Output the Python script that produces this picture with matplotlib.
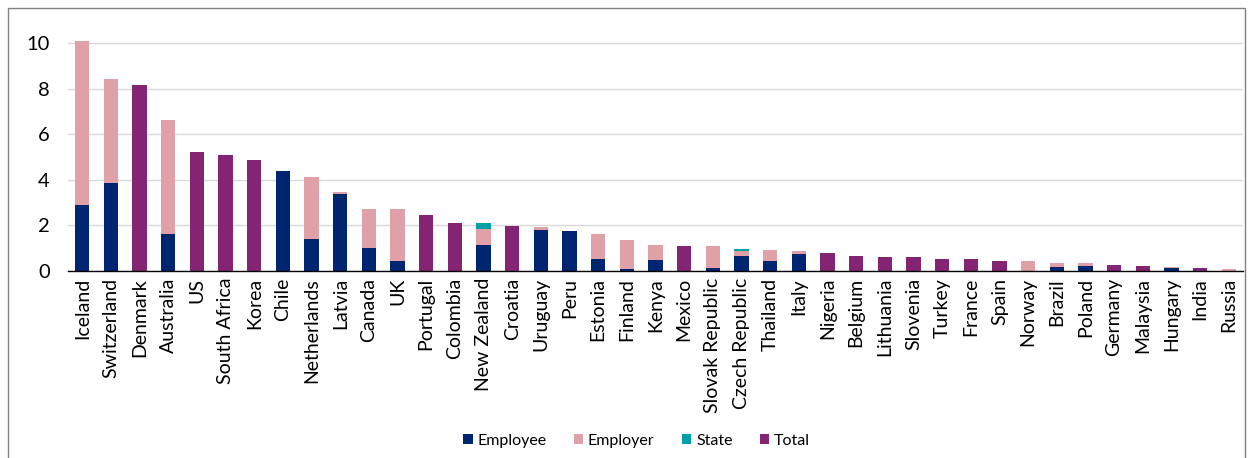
import numpy as np
import matplotlib
matplotlib.use("Agg")
import matplotlib.pyplot as plt
from matplotlib.patches import Rectangle

plt.rcParams['font.family'] = ['Lato', 'DejaVu Sans']

countries = ["Iceland", "Switzerland", "Denmark", "Australia", "US", "South Africa", "Korea",
             "Chile", "Netherlands", "Latvia", "Canada", "UK", "Portugal", "Colombia",
             "New Zealand", "Croatia", "Uruguay", "Peru", "Estonia", "Finland", "Kenya",
             "Mexico", "Slovak Republic", "Czech Republic", "Thailand", "Italy", "Nigeria",
             "Belgium", "Lithuania", "Slovenia", "Turkey", "France", "Spain", "Norway",
             "Brazil", "Poland", "Germany", "Malaysia", "Hungary", "India", "Russia"]

employee = [2.90, 3.85, 0, 1.62, 0, 0, 0, 4.38, 1.39, 3.40, 1.02, 0.45, 0, 0,
            1.16, 0, 1.82, 1.76, 0.51, 0.10, 0.50, 0, 0.13, 0.66, 0.43, 0.75, 0,
            0, 0, 0, 0, 0, 0, 0, 0.18, 0.23, 0, 0, 0.12, 0, 0]
employer = [7.20, 4.57, 0, 5.01, 0, 0, 0, 0, 2.74, 0.06, 1.69, 2.26, 0, 0,
            0.69, 0, 0.11, 0, 1.13, 1.28, 0.63, 0, 0.97, 0.22, 0.51, 0.13, 0,
            0, 0, 0, 0, 0, 0, 0.43, 0.19, 0.12, 0, 0, 0.07, 0, 0.09]
state = [0, 0, 0, 0, 0, 0, 0, 0, 0, 0, 0, 0, 0, 0,
         0.26, 0, 0, 0, 0, 0, 0, 0, 0, 0.10, 0, 0, 0,
         0, 0, 0, 0, 0, 0, 0, 0, 0, 0, 0, 0, 0, 0]
total = [0, 0, 8.17, 0, 5.23, 5.10, 4.88, 0, 0, 0, 0, 0, 2.48, 2.11,
         0, 1.96, 0, 0, 0, 0, 0, 1.11, 0, 0, 0, 0, 0.79,
         0.64, 0.62, 0.60, 0.53, 0.53, 0.44, 0, 0, 0, 0.25, 0.21, 0, 0.12, 0]

c_emp = "#002570"
c_empr = "#E0A0A8"
c_state = "#00A0A8"
c_total = "#832475"

x = np.arange(len(countries))
e1 = np.array(employee)
e2 = np.array(employer)
e3 = np.array(state)

fig = plt.figure(figsize=(12.53, 4.58), dpi=100)
ax = fig.add_axes([68/1253, 1-271/458, 1175/1253, 239/458])

w = 0.5
ax.bar(x, e1, w, color=c_emp, label="Employee", zorder=3)
ax.bar(x, e2, w, bottom=e1, color=c_empr, label="Employer", zorder=3)
ax.bar(x, e3, w, bottom=e1 + e2, color=c_state, label="State", zorder=3)
ax.bar(x, total, w, color=c_total, label="Total", zorder=3)

ax.set_xlim(-0.5, len(countries) - 0.5)
ax.set_ylim(0, 10.5)
ax.set_yticks([0, 2, 4, 6, 8, 10])
ax.yaxis.grid(True, color="#d9d9d9", linewidth=1, zorder=0)
ax.set_axisbelow(True)
for s in ["top", "right", "left"]:
    ax.spines[s].set_visible(False)
ax.spines["bottom"].set_color("black")
ax.spines["bottom"].set_linewidth(1)
ax.spines["bottom"].set_zorder(4)
ax.tick_params(axis="y", length=0, labelsize=14.5, pad=13)
ax.tick_params(axis="x", length=0, labelsize=14, pad=5)
ax.set_xticks(x)
ax.set_xticklabels(countries, rotation=90)

fig.legend(loc="center", bbox_to_anchor=(0.508, 1 - 441/458), ncol=4,
           frameon=False, fontsize=11.5, handlelength=0.6, handleheight=0.6,
           handletextpad=0.3, columnspacing=1.7)

fig.patches.append(Rectangle((8/1253, -0.01), 1237/1253, 1 - 8/458 + 0.01,
                             transform=fig.transFigure, fill=False,
                             edgecolor="#808080", linewidth=1))

fig.savefig("out.png", dpi=100)
